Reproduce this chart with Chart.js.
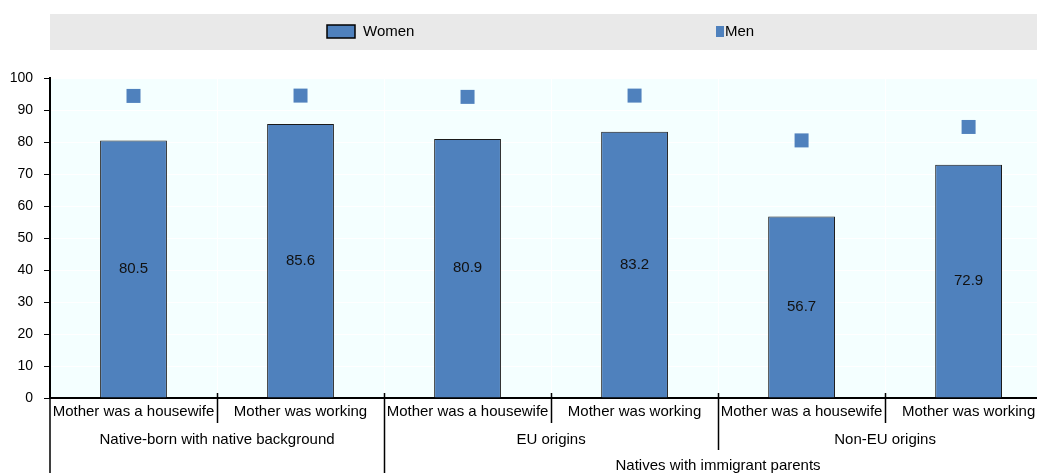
<!DOCTYPE html>
<html>
<head>
<meta charset="utf-8">
<script src="https://cdn.jsdelivr.net/npm/chart.js@4"></script>
<style>
  html, body { margin: 0; padding: 0; background: #fff; overflow: hidden; }
  #chart { display: block; }
</style>
</head>
<body>
<canvas id="chart" width="1062" height="473" style="width:1062px;height:473px"></canvas>
<script>
// Categories and the groups they sit in (bottom axis, three levels)
const categories = ["Mother was a housewife", "Mother was working",
                    "Mother was a housewife", "Mother was working",
                    "Mother was a housewife", "Mother was working"];
const groups = ["Native-born with native background", "EU origins", "Non-EU origins"];
const groupSizes = [2, 2, 2];
const topGroups = ["", "Natives with immigrant parents"];
const topGroupSizes = [2, 4];

// Employment rates (%)
const women = [80.5, 85.6, 80.9, 83.2, 56.7, 72.9];
const men = [94.4, 94.5, 94.1, 94.5, 80.5, 84.7];

const yTicks = [0, 10, 20, 30, 40, 50, 60, 70, 80, 90, 100];

const blue = '#4F81BD';
const fontFamily = "'Liberation Sans', Arial, sans-serif";

Chart.defaults.font.family = fontFamily;
Chart.defaults.color = '#000';

// plot background + grey legend strip
const backdrop = {
  id: 'backdrop',
  beforeDraw(chart) {
    const c = chart.ctx, a = chart.chartArea;
    c.save();
    c.fillStyle = '#E9E9E9';
    c.fillRect(a.left, 14, chart.width - a.left, 36);
    c.fillStyle = '#F4FFFF';
    c.fillRect(a.left, a.top, a.right - a.left, a.bottom - a.top);
    c.restore();
  }
};

// legend drawn by hand so the two items spread out across the strip
const spreadLegend = {
  id: 'spreadLegend',
  afterDraw(chart) {
    const c = chart.ctx;
    c.save();
    c.font = '15px ' + fontFamily;
    c.textBaseline = 'middle';
    c.fillStyle = blue;
    c.fillRect(327, 25, 28, 13);
    c.strokeStyle = '#000';
    c.lineWidth = 1.5;
    c.strokeRect(327, 25, 28, 13);
    c.fillStyle = '#000';
    c.fillText(chart.data.datasets[0].label, 363, 32);
    c.fillStyle = blue;
    c.fillRect(716, 26, 8, 11);
    c.fillStyle = '#000';
    c.fillText(chart.data.datasets[1].label, 725, 32);
    c.restore();
  }
};

// value written in the middle of each bar
const barValues = {
  id: 'barValues',
  afterDatasetsDraw(chart) {
    const c = chart.ctx;
    const meta = chart.getDatasetMeta(0);
    c.save();
    c.font = '15px ' + fontFamily;
    c.fillStyle = '#111';
    c.textAlign = 'center';
    c.textBaseline = 'middle';
    meta.data.forEach((bar, i) => {
      c.fillText(women[i].toFixed(1), bar.x, (bar.y + bar.base) / 2);
    });
    c.restore();
  }
};

// group labels under the category labels and the separator lines
const groupAxis = {
  id: 'groupAxis',
  afterDraw(chart) {
    const c = chart.ctx;
    const xs = chart.scales.x;
    const step = (xs.right - xs.left) / categories.length;
    const bottom = xs.bottom;
    const base = chart.chartArea.bottom;
    c.save();
    c.font = '15px ' + fontFamily;
    c.fillStyle = '#000';
    c.textAlign = 'center';
    c.textBaseline = 'middle';

    let start = 0;
    const groupEnds = [];
    groups.forEach((g, k) => {
      const end = start + groupSizes[k];
      c.fillText(g, xs.left + step * (start + end) / 2, base + 42);
      groupEnds.push(end);
      start = end;
    });
    start = 0;
    const topEnds = [];
    topGroups.forEach((g, k) => {
      const end = start + topGroupSizes[k];
      c.fillText(g, xs.left + step * (start + end) / 2, base + 68);
      topEnds.push(end);
      start = end;
    });

    c.strokeStyle = '#000';
    c.lineWidth = 1.5;
    c.beginPath();
    c.moveTo(xs.left, base);
    c.lineTo(xs.left, bottom);
    for (let i = 1; i < categories.length; i++) {
      const x = Math.round(xs.left + step * i) + 0.5;
      let y2 = base + 25;
      if (topEnds.includes(i)) y2 = bottom;
      else if (groupEnds.includes(i)) y2 = base + 52;
      c.moveTo(x, base - 5);
      c.lineTo(x, y2);
    }
    c.stroke();
    c.restore();
  }
};

const ctx = document.getElementById('chart');

new Chart(ctx, {
  type: 'bar',
  data: {
    labels: categories,
    datasets: [{
      label: 'Women',
      data: women,
      backgroundColor: blue,
      borderColor: '#1a1a1a',
      borderWidth: 1,
      categoryPercentage: 1,
      barPercentage: 0.4,
      order: 2
    }, {
      type: 'line',
      label: 'Men',
      data: men,
      showLine: false,
      pointStyle: 'rect',
      pointRadius: 9.9,
      pointHoverRadius: 9.9,
      pointBackgroundColor: blue,
      pointBorderWidth: 0,
      order: 1
    }]
  },
  options: {
    responsive: false,
    animation: false,
    devicePixelRatio: 1,
    layout: { padding: { top: 78, left: 0, right: 0, bottom: 0 } },
    plugins: {
      legend: { display: false },
      tooltip: { enabled: false }
    },
    scales: {
      x: {
        grid: { color: '#fff', offset: true, drawTicks: false, lineWidth: 1 },
        border: { color: '#000', width: 2 },
        ticks: { font: { size: 15 }, color: '#000', padding: 5, maxRotation: 0, autoSkip: false },
        afterFit(scale) {
          scale.height = 75;
          scale.paddingLeft = 0;
          scale.paddingRight = 0;
        }
      },
      y: {
        min: 0,
        max: 100,
        afterBuildTicks(scale) { scale.ticks = yTicks.map(v => ({ value: v })); },
        ticks: { font: { size: 14 }, color: '#000', padding: 11 },
        grid: { color: '#fff', tickColor: '#000', tickLength: 6, lineWidth: 1 },
        border: { color: '#000', width: 2 },
        afterFit(scale) { scale.width = 50; }
      }
    }
  },
  plugins: [backdrop, spreadLegend, barValues, groupAxis]
});
</script>
</body>
</html>
